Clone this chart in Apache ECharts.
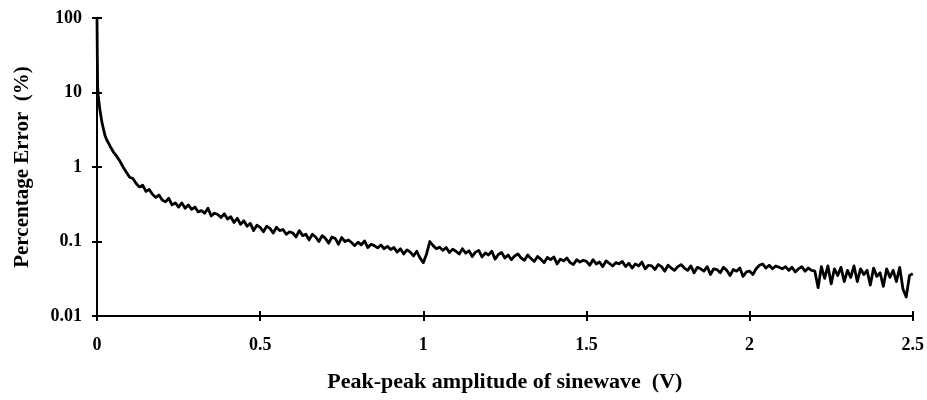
<!DOCTYPE html>
<html>
<head>
<meta charset="utf-8">
<script src="https://cdn.jsdelivr.net/npm/echarts@6/dist/echarts.min.js"></script>
<style>
  html, body { margin: 0; padding: 0; background: #fff; }
  #chart { width: 927px; height: 400px; }
</style>
</head>
<body>
<div id="chart"></div>
<script>
// 峰峰值幅度 (V)
const amplitude = [
  0, 0.001, 0.002, 0.004, 0.006, 0.009, 0.015, 0.02, 0.025, 0.03, 0.035, 0.04, 0.05, 0.06, 0.07, 0.08, 0.09,
  0.10, 0.11, 0.12, 0.13, 0.14, 0.15, 0.16, 0.17, 0.18, 0.19,
  0.20, 0.21, 0.22, 0.23, 0.24, 0.25, 0.26, 0.27, 0.28, 0.29,
  0.30, 0.31, 0.32, 0.33, 0.34, 0.35, 0.36, 0.37, 0.38, 0.39,
  0.40, 0.41, 0.42, 0.43, 0.44, 0.45, 0.46, 0.47, 0.48, 0.49,
  0.50, 0.51, 0.52, 0.53, 0.54, 0.55, 0.56, 0.57, 0.58, 0.59,
  0.60, 0.61, 0.62, 0.63, 0.64, 0.65, 0.66, 0.67, 0.68, 0.69,
  0.70, 0.71, 0.72, 0.73, 0.74, 0.75, 0.76, 0.77, 0.78, 0.79,
  0.80, 0.81, 0.82, 0.83, 0.84, 0.85, 0.86, 0.87, 0.88, 0.89,
  0.90, 0.91, 0.92, 0.93, 0.94, 0.95, 0.96, 0.97, 0.98, 0.99,
  1.00, 1.01, 1.02, 1.03, 1.04, 1.05, 1.06, 1.07, 1.08, 1.09,
  1.10, 1.11, 1.12, 1.13, 1.14, 1.15, 1.16, 1.17, 1.18, 1.19,
  1.20, 1.21, 1.22, 1.23, 1.24, 1.25, 1.26, 1.27, 1.28, 1.29,
  1.30, 1.31, 1.32, 1.33, 1.34, 1.35, 1.36, 1.37, 1.38, 1.39,
  1.40, 1.41, 1.42, 1.43, 1.44, 1.45, 1.46, 1.47, 1.48, 1.49,
  1.50, 1.51, 1.52, 1.53, 1.54, 1.55, 1.56, 1.57, 1.58, 1.59,
  1.60, 1.61, 1.62, 1.63, 1.64, 1.65, 1.66, 1.67, 1.68, 1.69,
  1.70, 1.71, 1.72, 1.73, 1.74, 1.75, 1.76, 1.77, 1.78, 1.79,
  1.80, 1.81, 1.82, 1.83, 1.84, 1.85, 1.86, 1.87, 1.88, 1.89,
  1.90, 1.91, 1.92, 1.93, 1.94, 1.95, 1.96, 1.97, 1.98, 1.99,
  2.00, 2.01, 2.02, 2.03, 2.04, 2.05, 2.06, 2.07, 2.08, 2.09,
  2.10, 2.11, 2.12, 2.13, 2.14, 2.15, 2.16, 2.17, 2.18, 2.19,
  2.20, 2.21, 2.22, 2.23, 2.24, 2.25, 2.26, 2.27, 2.28, 2.29,
  2.30, 2.31, 2.32, 2.33, 2.34, 2.35, 2.36, 2.37, 2.38, 2.39,
  2.40, 2.41, 2.42, 2.43, 2.44, 2.45, 2.46, 2.47, 2.48, 2.49, 2.50
];

// 百分比误差 (%)
const errorPct = [
  100, 30, 12, 9, 7.5, 5.8, 4.0, 3.2, 2.6, 2.3, 2.1, 1.9, 1.6, 1.4, 1.2, 1.0, 0.85,
  0.73, 0.70, 0.60, 0.54, 0.57, 0.47, 0.50, 0.43, 0.39, 0.42,
  0.36, 0.34, 0.38, 0.31, 0.33, 0.29, 0.33, 0.28, 0.31, 0.27,
  0.29, 0.25, 0.26, 0.24, 0.28, 0.22, 0.24, 0.23, 0.21, 0.235,
  0.20, 0.215, 0.18, 0.205, 0.17, 0.19, 0.16, 0.175, 0.14, 0.165,
  0.155, 0.135, 0.16, 0.15, 0.13, 0.155, 0.14, 0.145, 0.125, 0.135,
  0.13, 0.115, 0.14, 0.12, 0.125, 0.105, 0.125, 0.115, 0.10, 0.12,
  0.11, 0.095, 0.115, 0.11, 0.092, 0.113, 0.10, 0.105, 0.097, 0.088,
  0.098, 0.09, 0.102, 0.083, 0.092, 0.088, 0.082, 0.09, 0.08, 0.086,
  0.078, 0.083, 0.072, 0.08, 0.068, 0.077, 0.072, 0.064, 0.074, 0.06,
  0.052, 0.068, 0.10, 0.088, 0.08, 0.084, 0.076, 0.083, 0.071, 0.079,
  0.074, 0.068, 0.08, 0.07, 0.075, 0.063, 0.072, 0.076, 0.062, 0.07,
  0.066, 0.074, 0.058, 0.067, 0.071, 0.06, 0.066, 0.057, 0.064, 0.068,
  0.06, 0.056, 0.066, 0.059, 0.054, 0.063, 0.058, 0.052, 0.061, 0.057,
  0.062, 0.05, 0.058, 0.055, 0.06, 0.052, 0.049, 0.057, 0.053, 0.056,
  0.054, 0.048, 0.057, 0.05, 0.053, 0.046, 0.055, 0.051, 0.047, 0.052,
  0.05, 0.054, 0.046, 0.051, 0.044, 0.05, 0.047, 0.053, 0.043, 0.048,
  0.047, 0.042, 0.049, 0.046, 0.04, 0.048, 0.044, 0.041, 0.046, 0.049,
  0.044, 0.041, 0.047, 0.038, 0.045, 0.043, 0.04, 0.046, 0.036, 0.043,
  0.042, 0.038, 0.045, 0.041, 0.035, 0.042, 0.04, 0.044, 0.034, 0.039,
  0.04, 0.036, 0.043, 0.048, 0.05, 0.044, 0.048, 0.043, 0.047, 0.045,
  0.043, 0.046, 0.041, 0.045, 0.039, 0.043, 0.046, 0.04, 0.044, 0.041,
  0.04, 0.024, 0.046, 0.032, 0.047, 0.027, 0.043, 0.035, 0.045, 0.029,
  0.041, 0.033, 0.047, 0.029, 0.043, 0.036, 0.041, 0.026, 0.044, 0.034,
  0.038, 0.025, 0.043, 0.033, 0.041, 0.029, 0.045, 0.023, 0.018, 0.035, 0.037
];

const xTicks = [0, 0.5, 1, 1.5, 2, 2.5];
const yTicks = [0.01, 0.1, 1, 10, 100];

const fontFamily = '"Liberation Serif", "DejaVu Serif", serif';

let seriesData = [];
for (let i = 0; i < amplitude.length; i++) {
  seriesData.push([amplitude[i], errorPct[i]]);
}

let myChart = echarts.init(document.getElementById('chart'));

let gridRect = { left: 97, right: 14, top: 18, bottom: 84 };
let tickStyle = { color: '#000', width: 2 };
let labelStyle = {
  fontFamily: fontFamily,
  fontSize: 18,
  fontWeight: 'bold',
  color: '#000',
  formatter: function (v) { return String(v); },
};

// 刻度在轴线两侧：第二个grid重叠，只画内侧刻度
function makeX(gridIndex, inside) {
  return {
    type: 'value',
    gridIndex: gridIndex,
    min: xTicks[0],
    max: xTicks[xTicks.length - 1],
    interval: 0.5,
    splitLine: { show: false },
    axisLine: { lineStyle: { color: '#000', width: 2 } },
    axisTick: { inside: inside, length: 5, lineStyle: tickStyle },
    axisLabel: inside ? { show: false } : Object.assign({ margin: 20 }, labelStyle),
  };
}
function makeY(gridIndex, inside) {
  return {
    type: 'log',
    logBase: 10,
    gridIndex: gridIndex,
    min: yTicks[0],
    max: yTicks[yTicks.length - 1],
    splitLine: { show: false },
    axisLine: { lineStyle: { color: '#000', width: 2 } },
    axisTick: { inside: inside, length: 5, lineStyle: tickStyle },
    axisLabel: inside ? { show: false } : Object.assign({ margin: 15 }, labelStyle),
  };
}

let xMain = makeX(0, false);
xMain.name = 'Peak-peak amplitude of sinewave  (V)';
xMain.nameLocation = 'middle';
xMain.nameGap = 55;
xMain.nameTextStyle = { fontFamily: fontFamily, fontSize: 22, fontWeight: 'bold', color: '#000' };

let yMain = makeY(0, false);
yMain.name = 'Percentage Error  (%)';
yMain.nameLocation = 'middle';
yMain.nameGap = 64;
yMain.nameTextStyle = { fontFamily: fontFamily, fontSize: 21, fontWeight: 'bold', color: '#000' };

let option = {
  animation: false,
  backgroundColor: '#fff',
  grid: [gridRect, Object.assign({}, gridRect)],
  xAxis: [xMain, makeX(1, true)],
  yAxis: [yMain, makeY(1, true)],
  series: [
    {
      type: 'line',
      data: seriesData,
      xAxisIndex: 0,
      yAxisIndex: 0,
      showSymbol: false,
      smooth: false,
      lineStyle: { color: '#000', width: 2.8, join: 'round' },
    },
  ],
};
myChart.setOption(option);
</script>
</body>
</html>
